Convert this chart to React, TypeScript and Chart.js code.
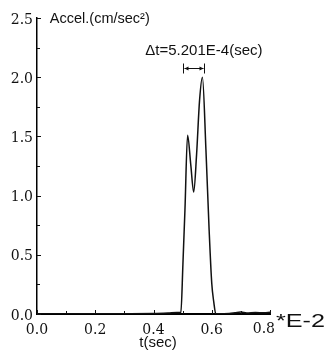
import React, { useEffect, useRef } from "react";
import { Chart, registerables } from "chart.js";

Chart.register(...registerables);

// time axis values are in units of 1E-2 sec
const timeE2 = [0, 0.1, 0.2, 0.3, 0.4, 0.45, 0.48, 0.494, 0.501, 0.508, 0.517, 0.528, 0.538, 0.548, 0.558, 0.568, 0.58, 0.591, 0.6, 0.607, 0.614, 0.63, 0.66, 0.68, 0.7, 0.72, 0.75, 0.78, 0.8];
const accel = [0, 0, 0.002, 0.003, 0.004, 0.008, 0.012, 0.015, 0.42, 0.88, 1.51, 1.26, 1.03, 1.35, 1.8, 2.0, 1.39, 0.71, 0.26, 0.1, 0, 0.002, 0.004, 0.01, 0.016, 0.008, 0.013, 0.01, 0.015];

const xMin = 0;
const xMax = 0.8;
const xStep = 0.1;
const xLabelEvery = 0.2;
const yMin = 0;
const yMax = 2.5;
const yStep = 0.25;
const yLabelEvery = 0.5;

const yAxisLabel = "Accel.(cm/sec\u00B2)";
const xAxisLabel = "t(sec)";
const xExponent = "*E-2";
const deltaLabel = "\u0394t=5.201E-4(sec)";
const deltaBracket = [0.502, 0.574];
const deltaBracketY = 2.08;
const deltaLabelPos = { x: 0.573, y: 2.225 };
const yLabelPos = { x: 0.044, y: 2.495 };

const isMultiple = (v: number, m: number) => Math.abs(v / m - Math.round(v / m)) < 1e-6;

export default function App() {
  const ref = useRef<HTMLCanvasElement | null>(null);

  useEffect(() => {
    if (!ref.current) return;
    const overlay = {
      id: "overlay",
      afterDraw(chart: any) {
        const ctx = chart.ctx as CanvasRenderingContext2D;
        const xs = chart.scales.x;
        const ys = chart.scales.y;
        const area = chart.chartArea;
        ctx.save();
        ctx.strokeStyle = "#111";
        ctx.fillStyle = "#111";
        // inner tick marks
        ctx.lineWidth = 1;
        for (let v = xMin; v <= xMax + 1e-9; v += xStep) {
          const px = Math.round(xs.getPixelForValue(v)) + 0.5;
          const len = isMultiple(v, xLabelEvery) ? 4 : 3;
          ctx.beginPath();
          ctx.moveTo(px, area.bottom);
          ctx.lineTo(px, area.bottom - len);
          ctx.stroke();
        }
        for (let v = yMin; v <= yMax + 1e-9; v += yStep) {
          const py = Math.round(ys.getPixelForValue(v)) + 0.5;
          const len = isMultiple(v, yLabelEvery) ? 4 : 3;
          ctx.beginPath();
          ctx.moveTo(area.left, py);
          ctx.lineTo(area.left + len, py);
          ctx.stroke();
        }
        // last x tick label and exponent
        ctx.font = "14px 'DejaVu Serif'";
        ctx.textAlign = "right";
        ctx.textBaseline = "middle";
        const p08 = xs.getPixelForValue(xMax);
        ctx.fillText(xMax.toFixed(1), p08 + 5, 329);
        ctx.font = "18px 'Liberation Sans'";
        ctx.textAlign = "left";
        const w = ctx.measureText(xExponent).width;
        ctx.save();
        ctx.translate(p08 + 6, 322);
        ctx.scale(49 / w, 1);
        ctx.fillText(xExponent, 0, 0);
        ctx.restore();
        // axis titles
        ctx.font = "15px 'Liberation Sans'";
        ctx.textAlign = "center";
        ctx.fillText(xAxisLabel, 158, 343);
        ctx.font = "14.5px 'Liberation Sans'";
        ctx.textAlign = "left";
        ctx.fillText(yAxisLabel, xs.getPixelForValue(yLabelPos.x), ys.getPixelForValue(yLabelPos.y));
        // delta t annotation
        ctx.font = "15px 'Liberation Sans'";
        ctx.textAlign = "center";
        ctx.fillText(deltaLabel, xs.getPixelForValue(deltaLabelPos.x), ys.getPixelForValue(deltaLabelPos.y));
        const bx1 = Math.round(xs.getPixelForValue(deltaBracket[0])) + 0.5;
        const bx2 = Math.round(xs.getPixelForValue(deltaBracket[1])) + 0.5;
        const by = Math.round(ys.getPixelForValue(deltaBracketY)) + 0.5;
        ctx.lineWidth = 1;
        ctx.beginPath();
        ctx.moveTo(bx1, by - 5);
        ctx.lineTo(bx1, by + 5);
        ctx.moveTo(bx2, by - 5);
        ctx.lineTo(bx2, by + 5);
        ctx.moveTo(bx1 + 1, by);
        ctx.lineTo(bx2 - 1, by);
        ctx.stroke();
        ctx.beginPath();
        ctx.moveTo(bx1 + 1, by);
        ctx.lineTo(bx1 + 5, by - 2);
        ctx.lineTo(bx1 + 5, by + 2);
        ctx.closePath();
        ctx.moveTo(bx2 - 1, by);
        ctx.lineTo(bx2 - 5, by - 2);
        ctx.lineTo(bx2 - 5, by + 2);
        ctx.closePath();
        ctx.fill();
        ctx.restore();
      },
    };

    const chart = new Chart(ref.current, {
      type: "line",
      data: {
        datasets: [
          {
            data: timeE2.map((t, i) => ({ x: t, y: accel[i] })),
            borderColor: "#111",
            borderWidth: 1.5,
            pointRadius: 0,
            fill: false,
            cubicInterpolationMode: "monotone",
          },
        ],
      },
      options: {
        responsive: false,
        devicePixelRatio: 1,
        animation: false,
        layout: { padding: { top: 18, right: 59, left: 0, bottom: 0 } },
        plugins: { legend: { display: false }, tooltip: { enabled: false } },
        scales: {
          x: {
            type: "linear",
            min: xMin,
            max: xMax,
            afterFit: (s: any) => {
              s.height = 46;
            },
            grid: { display: true, drawOnChartArea: false, drawTicks: false },
            border: { display: true, color: "#000", width: 2 },
            ticks: {
              stepSize: xStep,
              autoSkip: false,
              maxRotation: 0,
              padding: 8,
              color: "#111",
              font: { family: "'DejaVu Serif'", size: 14 },
              callback: (v: any) => {
                const n = Number(v);
                if (isMultiple(n, xLabelEvery) && n < xMax - 1e-6) return n.toFixed(1);
                return "";
              },
            },
          },
          y: {
            type: "linear",
            min: yMin,
            max: yMax,
            afterFit: (s: any) => {
              s.width = 37;
            },
            grid: { display: true, drawOnChartArea: false, drawTicks: false },
            border: { display: true, color: "#000", width: 1.5 },
            ticks: {
              stepSize: yStep,
              autoSkip: false,
              padding: 4,
              labelOffset: 2,
              color: "#111",
              font: { family: "'DejaVu Serif'", size: 14 },
              callback: (v: any) => {
                const n = Number(v);
                if (isMultiple(n, yLabelEvery)) return n.toFixed(1);
                return "";
              },
            },
          },
        },
      },
      plugins: [overlay],
    } as any);
    return () => chart.destroy();
  }, []);

  return (
    <div style={{ position: "fixed", left: 0, top: 0, width: 329, height: 360, background: "#fff" }}>
      <canvas ref={ref} width={329} height={360} style={{ display: "block", width: 329, height: 360 }} />
    </div>
  );
}
